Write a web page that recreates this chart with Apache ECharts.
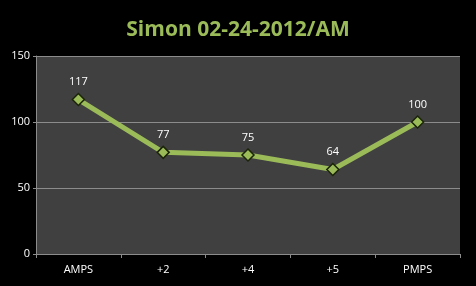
<!DOCTYPE html>
<html><head><meta charset="utf-8">
<script src="https://cdn.jsdelivr.net/npm/echarts@6/dist/echarts.min.js"></script>
<style>html,body{margin:0;padding:0;background:#000;}#c{width:476px;height:286px;}</style>
</head><body><div id="c"></div>
<script>
var titleText = 'Simon 02-24-2012/AM';
var categories = ['AMPS', '+2', '+4', '+5', 'PMPS'];
var values = [117, 77, 75, 64, 100];
var yMin = 0, yMax = 150, yStep = 50;

var chart = echarts.init(document.getElementById('c'));
chart.setOption({
  backgroundColor: '#000000',
  animation: false,
  title: {
    text: titleText, left: 'center', top: 15,
    textStyle: {color: '#9bbb59', fontSize: 21, fontWeight: 'bold', fontFamily: 'Open Sans'}
  },
  grid: {left: 36, right: 16, top: 56, bottom: 32, show: true, backgroundColor: '#404040', borderWidth: 0},
  xAxis: {
    type: 'category', data: categories, boundaryGap: true,
    axisLine: {lineStyle: {color: '#8c8c8c', width: 1}},
    axisTick: {show: true, length: 4, lineStyle: {color: '#8c8c8c'}},
    axisLabel: {color: '#ffffff', fontSize: 11, fontFamily: 'Open Sans', margin: 10}
  },
  yAxis: {
    type: 'value', min: yMin, max: yMax, interval: yStep,
    axisLine: {show: true, lineStyle: {color: '#8c8c8c', width: 1}},
    axisTick: {show: true, length: 3, lineStyle: {color: '#8c8c8c'}},
    splitLine: {lineStyle: {color: '#8c8c8c', width: 1}},
    axisLabel: {color: '#ffffff', fontSize: 11, fontFamily: 'Open Sans', margin: 6}
  },
  series: [{
    type: 'line', data: values,
    lineStyle: {color: '#9bbb59', width: 5},
    symbol: 'diamond', symbolSize: 12,
    itemStyle: {color: '#9bbb59', borderColor: '#1a2408', borderWidth: 1.5},
    label: {show: true, position: 'top', distance: 5, color: '#ffffff', fontSize: 11, fontFamily: 'Open Sans'}
  }]
});
</script></body></html>
